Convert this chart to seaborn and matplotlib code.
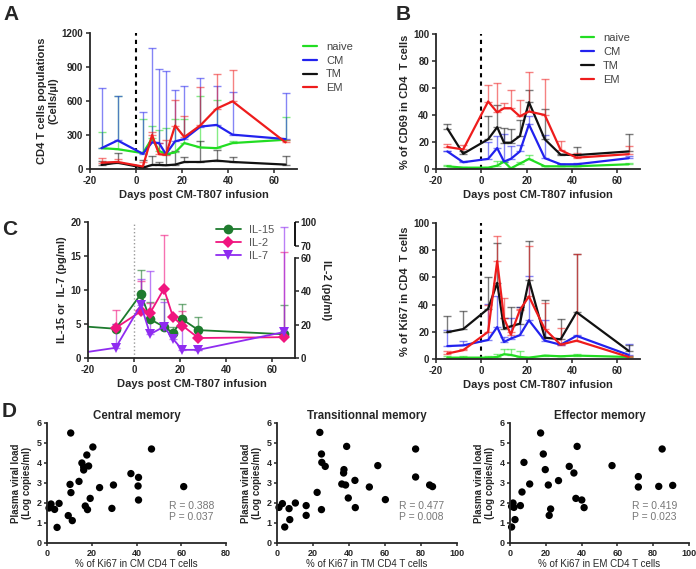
import numpy as np
import pandas as pd
import matplotlib
matplotlib.use("Agg")
import matplotlib.pyplot as plt
import matplotlib.transforms as mtransforms
import seaborn as sns

# ---- data ----
days = [-15, -8, 3, 7, 10, 13, 17, 21, 28, 35, 42, 65]
subsets = ["naive", "CM", "TM", "EM"]

# A: absolute counts (cells/ul), mean and upper end of error bar
counts = {
    "naive": [184, 175, 140, 270, 160, 131, 146, 229, 190, 184, 229, 258],
    "CM": [184, 252, 134, 235, 229, 131, 244, 264, 374, 389, 303, 264],
    "TM": [36, 56, 12, 36, 36, 33, 39, 62, 62, 74, 62, 39],
    "EM": [56, 62, 22, 300, 131, 125, 383, 282, 385, 532, 597, 235],
}
counts_hi = {
    "naive": [325, 640, 440, 380, 340, 360, 440, 440, 645, 610, 250, 455],
    "CM": [715, 645, 500, 1065, 885, 865, 700, 735, 805, 735, 680, 670],
    "TM": [70, 145, 80, 115, 60, 130, 160, 105, 250, 165, 110, 115],
    "EM": [95, 90, 60, 330, 230, 260, 605, 465, 725, 840, 875, 255],
}

# B: % CD69
cd69 = {
    "naive": [2, 1, 1, 2.5, 5.5, 0.5, 4, 7.5, 2, 2, 2, 3.5],
    "CM": [13, 5, 7.5, 15.5, 5.5, 7.5, 13, 33, 8, 3.5, 3.5, 8],
    "TM": [30, 11.3, 22, 31, 19.5, 19.5, 24.4, 49.5, 22, 10.6, 10.3, 13],
    "EM": [16.3, 14.5, 50, 42, 45, 45, 39, 42.6, 40, 14, 8.4, 11],
}
cd69_hi = {
    "naive": [3, 1.5, 1.5, 6, 6, 1, 5, 10.5, 2.5, 2.5, 2.5, 4.5],
    "CM": [13.5, 6, 20, 24.5, 26, 17, 17.5, 39, 25, 4, 4.5, 10],
    "TM": [33, 13, 39, 47.5, 30.5, 29.5, 36.5, 58.5, 44.5, 11, 16.5, 26],
    "EM": [18.5, 18, 62, 63.5, 49, 58.5, 51, 71.5, 67, 21, 12, 17],
}

# Ki67
ki67 = {
    "naive": [1, 1, 1, 1.5, 3.5, 3, 1.5, 1, 2.5, 2, 2.5, 1.5],
    "CM": [9.5, 10, 14, 23.5, 12.5, 15, 17.5, 28.5, 13.5, 10.5, 17, 3],
    "TM": [19.7, 22, 37, 56, 22.4, 24, 26, 58, 15.7, 14.5, 34.4, 6],
    "EM": [4, 6.5, 20, 72, 30, 18, 36, 46, 22, 10.5, 13.5, 1.5],
}
ki67_hi = {
    "naive": [2, 2, 2, 4, 7, 7.5, 6, 1.5, 3, 2, 4, 2],
    "CM": [21.5, 13, 40.5, 46.5, 16, 30, 38, 61, 29, 11, 18, 11],
    "TM": [31.5, 35.5, 60, 85, 30, 38, 38.5, 86.5, 43.5, 29.5, 77.5, 10],
    "EM": [6, 7, 40, 90.5, 44.5, 20, 37, 83, 41.5, 22.5, 77, 2],
}

# C: cytokines
cyt_days = [-8, 3, 7, 13, 17, 21, 28, 65]
lead_day = -28
il15_lead, il7_lead = 4.8, 0.5
il15 = [4.3, 9.4, 5.7, 4.6, 3.7, 5.7, 4.1, 3.5]
il15_hi = [5.0, 13.0, 8.2, 8.7, 4.5, 8.0, 6.1, 7.8]
il7 = [1.5, 7.8, 3.5, 4.6, 2.8, 1.2, 1.2, 3.8]
il7_hi = [5.0, 11.6, 12.8, 8.3, 3.5, 6.0, 1.2, 19.2]
il2 = [18, 28, 27, 41.5, 24.5, 19.5, 12, 12.5]          # pg/ml (right axis)
il2_hi = [29, 46, 33, 83, 24.5, 28, 12, 65]
il2_break_vals = [0, 60, 70, 100]     # broken right axis
il2_break_pos = [0, 14.7, 16.5, 20]

# D: Ki67 vs viral load
cm_x = [10.6, 20.5, 46.7, 17.8, 15.6, 18.6, 16.4, 16.4, 37.5, 40.9, 14.3, 10.3, 29.7, 23.5, 40.7,
        61.1, 10.7, 19.3, 40.9, 1.8, 5.4, 0.9, 3.4, 17.1, 18.1, 29.0, 9.5, 11.3, 4.5]
cm_y = [5.5, 4.8, 4.7, 4.4, 4.0, 3.85, 3.8, 3.65, 3.47, 3.28, 3.08, 2.93, 2.9, 2.77, 2.85,
        2.82, 2.52, 2.23, 2.15, 1.95, 1.98, 1.75, 1.68, 1.85, 1.67, 1.73, 1.37, 1.12, 0.78]
tm_x = [23.8, 38.7, 77.0, 24.7, 24.9, 26.8, 37.2, 56.0, 37.0, 43.3, 36.0, 38.1, 77.0, 84.8, 86.4,
        51.3, 22.3, 39.6, 60.2, 3.0, 10.2, 1.1, 16.2, 6.7, 24.7, 43.5, 16.2, 7.1, 4.3]
tm_y = [5.53, 4.83, 4.7, 4.45, 4.03, 3.83, 3.67, 3.87, 3.5, 3.13, 2.95, 2.9, 3.3, 2.9, 2.82,
        2.8, 2.53, 2.25, 2.17, 1.97, 2.0, 1.78, 1.87, 1.72, 1.67, 1.77, 1.38, 1.17, 0.8]
em_x = [17.1, 37.5, 85.0, 18.6, 7.8, 19.7, 33.1, 35.7, 57.0, 71.7, 27.1, 21.4, 11.0, 71.7, 83.1,
        90.9, 6.7, 36.8, 40.1, 1.7, 2.2, 0.9, 5.8, 22.7, 41.4, 21.9, 2.8, 0.9]
em_y = [5.5, 4.83, 4.7, 4.45, 4.03, 3.67, 3.83, 3.5, 3.87, 3.32, 3.12, 2.9, 2.95, 2.8, 2.83,
        2.88, 2.55, 2.23, 2.15, 2.0, 1.78, 1.83, 1.87, 1.7, 1.77, 1.38, 1.17, 0.8]
corr_text = ["R = 0.388\nP = 0.037", "R = 0.477\nP = 0.008", "R = 0.419\nP = 0.023"]

# ---- style ----
sns.set_style("ticks")
plt.rcParams["font.family"] = ["Liberation Sans", "DejaVu Sans"]
plt.rcParams["axes.unicode_minus"] = False
plt.rcParams["axes.linewidth"] = 1.3
plt.rcParams["xtick.major.width"] = 1.1
plt.rcParams["ytick.major.width"] = 1.1
plt.rcParams["xtick.major.size"] = 3
plt.rcParams["ytick.major.size"] = 3
plt.rcParams["xtick.major.pad"] = 2
plt.rcParams["ytick.major.pad"] = 2

sub_colors = {"naive": "#22dd22", "CM": "#2222ee", "TM": "#111111", "EM": "#ee1c1c"}
W, H = 696, 569
fig = plt.figure(figsize=(W / 100, H / 100), dpi=100)


def px_axes(l, t, r, b):
    return fig.add_axes([l / W, 1 - b / H, (r - l) / W, (b - t) / H])


def style_ticks(ax, size=7):
    for lab in ax.get_xticklabels() + ax.get_yticklabels():
        lab.set_fontweight("bold")
        lab.set_fontsize(size)
    sns.despine(ax=ax)


def kinetics(ax, means, highs, ymax, ystep, ylabel):
    df = pd.DataFrame([
        {"day": d, "value": v, "subset": s}
        for s in subsets for d, v in zip(days, means[s])
    ])
    for s in subsets:
        lo = np.zeros(len(days))
        up = np.array(highs[s]) - np.array(means[s])
        ax.errorbar(days, means[s], yerr=[lo, np.clip(up, 0, None)], fmt="none",
                    ecolor=sub_colors[s], alpha=0.55, elinewidth=1.0, capsize=3, capthick=1.0)
    sns.lineplot(data=df, x="day", y="value", hue="subset", hue_order=subsets,
                 palette=sub_colors, linewidth=1.6, ax=ax, legend=True)
    ax.axvline(0, color="black", linestyle=(0, (2, 2)), linewidth=1.5, zorder=1)
    ax.set_xlim(-20, 70)
    ax.set_ylim(0, ymax)
    ax.set_xticks([-20, 0, 20, 40, 60])
    ax.set_yticks(np.arange(0, ymax + 1, ystep))
    ax.set_xlabel("Days post CM-T807 infusion", fontsize=8, fontweight="bold", labelpad=3)
    ax.set_ylabel(ylabel, fontsize=8, fontweight="bold", labelpad=2)
    style_ticks(ax)


# A
axA = px_axes(90, 33, 297, 169)
kinetics(axA, counts, counts_hi, 1200, 300, "CD4 T cells populations\n(Cells/µl)")
axA.legend(loc="upper left", bbox_to_anchor=(0.98, 1.01), frameon=False, fontsize=8,
           handlelength=1.3, labelspacing=0.35, labelcolor="#444444")

# B
axB = px_axes(436, 34, 640, 169)
kinetics(axB, cd69, cd69_hi, 100, 20, "% of CD69 in CD4  T cells")
axB.legend(loc="upper right", bbox_to_anchor=(1.0, 1.08), frameon=False, fontsize=8,
           handlelength=1.2, labelspacing=0.35, labelcolor="#444444")

# Ki67
axK = px_axes(436, 223, 640, 359)
kinetics(axK, ki67, ki67_hi, 100, 20, "% of Ki67 in CD4  T cells")
axK.get_legend().remove()

# C
axC = px_axes(88, 222, 295, 358)
il_colors = {"IL-15": "#1e7b2e", "IL-2": "#f0157f", "IL-7": "#8f2cf0"}
il2_pos = np.interp(il2, il2_break_vals, il2_break_pos)
il2_hi_pos = np.interp(il2_hi, il2_break_vals, il2_break_pos)
series = [
    ("IL-15", [lead_day] + cyt_days, [il15_lead] + il15, il15_hi, "o", 7),
    ("IL-2", cyt_days, list(il2_pos), list(il2_hi_pos), "D", 6),
    ("IL-7", [lead_day] + cyt_days, [il7_lead] + il7, il7_hi, "v", 7),
]
for name, x, y, hi, mk, ms in series:
    m = np.array(y[-len(cyt_days):])
    axC.errorbar(cyt_days, m, yerr=[np.zeros(len(m)), np.clip(np.array(hi) - m, 0, None)],
                 fmt="none", ecolor=il_colors[name], alpha=0.6, elinewidth=1.0,
                 capsize=3, capthick=1.0)
for name, x, y, hi, mk, ms in series:
    sns.lineplot(x=x, y=y, color=il_colors[name], marker=mk, markersize=ms,
                 markeredgewidth=0, linewidth=1.3, label=name, ax=axC)
axC.axvline(0, color="#999999", linestyle=":", linewidth=1.0, zorder=1)
axC.set_xlim(-20, 70)
axC.set_ylim(0, 20)
axC.set_xticks([-20, 0, 20, 40, 60])
axC.set_yticks([0, 5, 10, 15, 20])
axC.set_xlabel("Days post CM-T807 infusion", fontsize=8, fontweight="bold", labelpad=3)
axC.set_ylabel("IL-15 or  IL-7 (pg/ml)", fontsize=8, fontweight="bold", labelpad=2)
style_ticks(axC)
axC.legend(loc="upper right", bbox_to_anchor=(0.95, 1.05), frameon=False, fontsize=8,
           handlelength=2.2, labelspacing=0.25, labelcolor="#555555")

axC2 = axC.twinx()
axC2.set_ylim(0, 20)
axC2.set_yticks(np.interp([0, 20, 40, 60, 70, 100], il2_break_vals, il2_break_pos))
axC2.set_yticklabels(["0", "20", "40", "60", "70", "100"])
for lab in axC2.get_yticklabels():
    lab.set_fontweight("bold")
    lab.set_fontsize(7)
axC2.tick_params(axis="y", pad=1)
for side in ["top", "left", "bottom"]:
    axC2.spines[side].set_visible(False)
axC2.spines["right"].set_bounds(0, il2_break_pos[1])
trans = mtransforms.blended_transform_factory(axC2.transAxes, axC2.transData)
axC2.plot([1, 1], [il2_break_pos[2], il2_break_pos[3]], color="black", linewidth=1.3,
          transform=trans, clip_on=False, solid_capstyle="butt")
axC2.set_ylabel("IL-2 (pg/ml)", fontsize=8, fontweight="bold", rotation=270, labelpad=10)

# D
d_specs = [
    ((47, 423, 226, 543), cm_x, cm_y, "Central memory", 80, "% of Ki67 in CM CD4 T cells"),
    ((277, 423, 457, 543), tm_x, tm_y, "Transitionnal memory", 100, "% of Ki67 in TM CD4 T cells"),
    ((510, 423, 689, 543), em_x, em_y, "Effector memory", 100, "% of Ki67 in EM CD4 T cells"),
]
for (rect, x, y, title, xmax, xlabel), txt in zip(d_specs, corr_text):
    ax = px_axes(*rect)
    sns.scatterplot(x=x, y=y, color="black", s=28, edgecolor="none", ax=ax, clip_on=False)
    ax.set_xlim(0, xmax)
    ax.set_ylim(0, 6)
    ax.set_xticks(np.arange(0, xmax + 1, 20))
    ax.set_yticks(range(0, 7))
    ax.set_title(title, fontsize=8.3, fontweight="bold", pad=3)
    ax.set_xlabel(xlabel, fontsize=7, labelpad=1)
    ax.set_ylabel("Plasma viral load\n(Log copies/ml)", fontsize=7, fontweight="bold", labelpad=3)
    ax.tick_params(length=2.5, pad=1.5)
    style_ticks(ax, size=6.5)
    ax.text(0.68, 0.26, txt, transform=ax.transAxes, fontsize=7.5, color="#777777",
            va="center", linespacing=1.1)

# panel letters
for letter, x, y in [("A", 3, 5), ("B", 396, 5), ("C", 2, 220), ("D", 2, 402)]:
    fig.text(x / W, 1 - y / H, letter, fontsize=15, fontweight="bold", va="top", ha="left")

fig.savefig("out.png", dpi=100)
